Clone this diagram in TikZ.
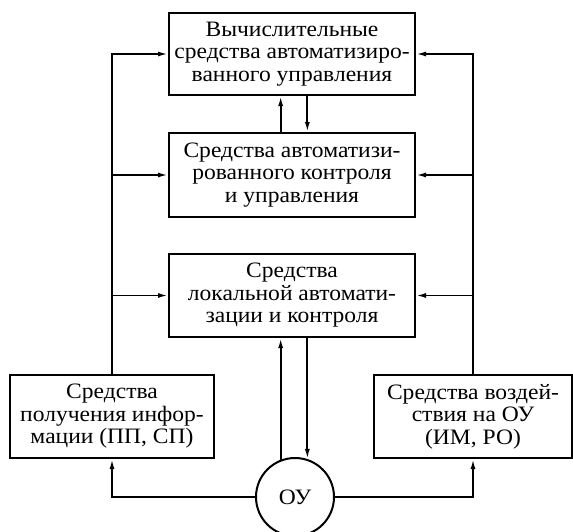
\documentclass[tikz,border=0pt]{standalone}
\usepackage{fontspec}
\setmainfont[FakeStretch=1.07]{Liberation Serif}
\usepackage{tikz}
\usetikzlibrary{arrows.meta,positioning}

\begin{document}
\begin{tikzpicture}[x=1pt,y=-1pt,
	>={Latex[length=10pt,width=5pt]},
	every node/.style={font=\fontsize{22}{22.5}\selectfont},
	blok/.style={draw,line width=2pt,align=center,inner sep=0pt},
	lin/.style={line width=1.8pt}]
		\useasboundingbox (0,0) rectangle (573,531);
		\node[blok,minimum width=246pt,minimum height=82pt] (vych) at (292,54)
		{Вычислительные\\средства автоматизиро-\\ванного управления};
		\node[blok,minimum width=246pt,minimum height=84pt] (sakt) at (292,175)
		{Средства автоматизи-\\рованного контроля\\и управления};
		\node[blok,minimum width=246pt,minimum height=83pt] (lok) at (292,295.5)
		{Средства\\локальной автомати-\\зации и контроля};
		\node[blok,minimum width=204pt,minimum height=83pt] (info) at (112,416.5)
		{Средства\\получения инфор-\\мации (ПП, СП)};
		\node[blok,minimum width=198pt,minimum height=83pt] (vozd) at (473,416.5)
		{Средства воздей-\\ствия на ОУ\\(ИМ, РО)};
		\node[draw,circle,line width=2pt,minimum size=78pt,inner sep=0pt] (ou) at (295,497) {ОУ};
		\draw[lin,->] (info.north) |- (vych.west);
		\draw[lin,->] (info.north |- sakt.west) -- (sakt.west);
		\draw[lin,->] (info.north |- lok.west) -- (lok.west);
		\draw[lin,->] (vozd.north) |- (vych.east);
		\draw[lin,->] (vozd.north |- sakt.east) -- (sakt.east);
		\draw[lin,->] (vozd.north |- lok.east) -- (lok.east);
		\draw[lin,->] (ou.111 |- sakt.north) -- (ou.111 |- vych.south);
		\draw[lin,->] (ou.72 |- vych.south) -- (ou.72 |- sakt.north);
		\draw[lin,->] (ou.111) -- (ou.111 |- lok.south);
		\draw[lin,->] (ou.72 |- lok.south) -- (ou.72);
		\draw[lin,->] (ou.west) -| (info.south);
		\draw[lin,->] (ou.east) -| (vozd.south);
	\end{tikzpicture}
\end{document}
